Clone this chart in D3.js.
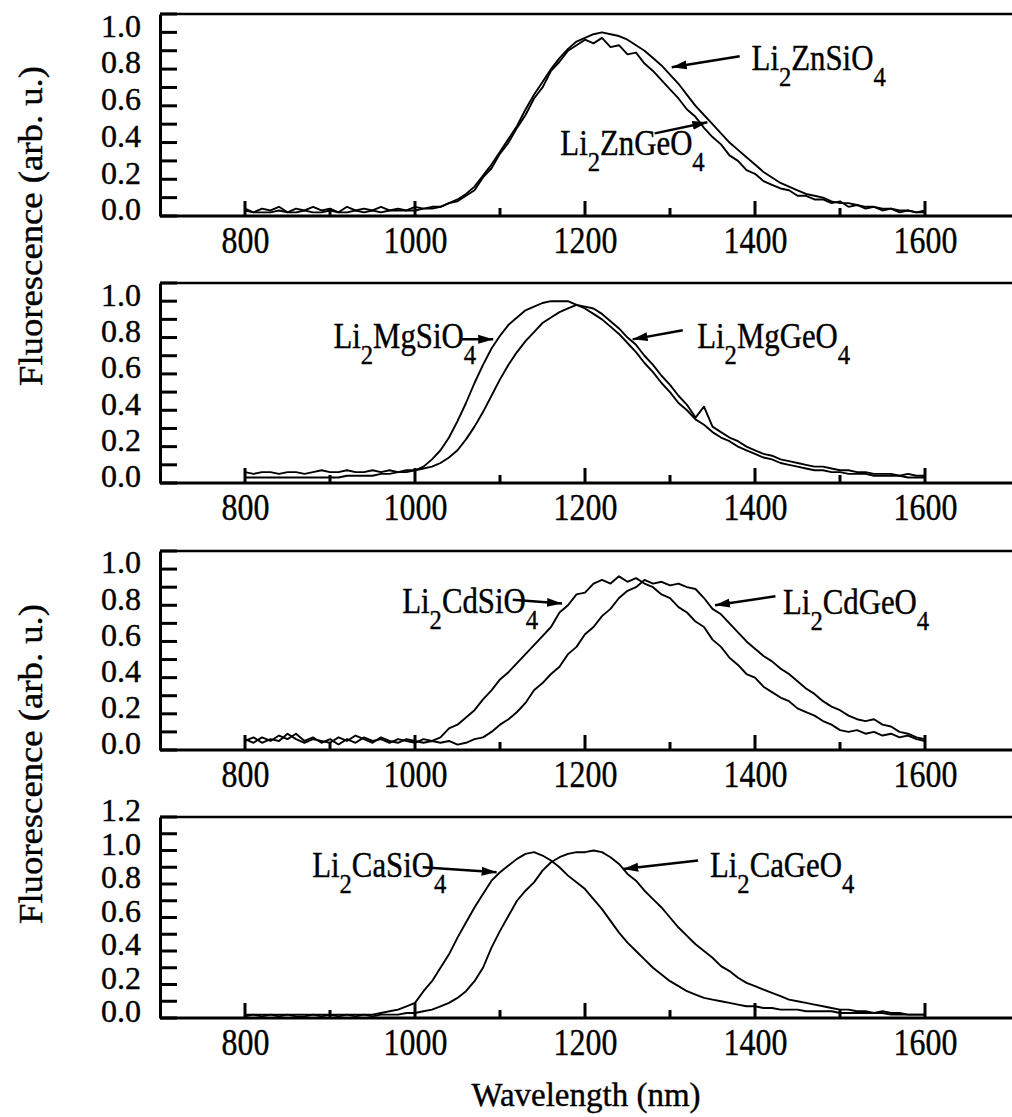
<!DOCTYPE html>
<html>
<head>
<meta charset="utf-8">
<script src="https://cdn.jsdelivr.net/npm/d3@7"></script>
<style>
  body { margin: 0; background: #fff; }
  svg { display: block; background: #fff; }
  .axis path, .axis line { stroke: #000; }
  .tickmark { stroke: #000; stroke-width: 3; }
  .trace { fill: none; stroke: #000; stroke-width: 1.9; stroke-linejoin: round; }
  .arrow { stroke: #000; stroke-width: 2.5; }
  text { fill: #000; stroke: #000; stroke-width: 0.4; }
</style>
</head>
<body>
<div id="chart"></div>
<script>
// sample wavelengths (nm), 10 nm apart
const wavelengths = [
  800, 810, 820, 830, 840, 850, 860, 870, 880, 890,
  900, 910, 920, 930, 940, 950, 960, 970, 980, 990,
  1000, 1010, 1020, 1030, 1040, 1050, 1060, 1070, 1080, 1090,
  1100, 1110, 1120, 1130, 1140, 1150, 1160, 1170, 1180, 1190,
  1200, 1210, 1220, 1230, 1240, 1250, 1260, 1270, 1280, 1290,
  1300, 1310, 1320, 1330, 1340, 1350, 1360, 1370, 1380, 1390,
  1400, 1410, 1420, 1430, 1440, 1450, 1460, 1470, 1480, 1490,
  1500, 1510, 1520, 1530, 1540, 1550, 1560, 1570, 1580, 1590,
  1600];

// fluorescence (arb. u.)
const znSi = [
  .03,.02,.02,.02,.03,.02,.02,.03,.02,.02, .03,.02,.02,.03,.02,.03,.02,.03,.03,.03,
  .03,.04,.04,.05,.07,.09,.12,.16,.22,.28, .35,.42,.49,.58,.66,.73,.80,.86,.91,.95,
  .97,.99,1.00,.99,.98,.96,.93,.90,.86,.82, .77,.72,.66,.60,.55,.50,.45,.40,.36,.32,
  .28,.24,.21,.18,.16,.14,.12,.11,.10,.08, .07,.07,.06,.05,.05,.04,.04,.03,.03,.02, .02];
const znGe = [
  .04,.02,.04,.03,.05,.02,.04,.03,.05,.03, .04,.02,.05,.03,.04,.03,.05,.03,.04,.03,
  .05,.04,.05,.05,.07,.08,.11,.14,.21,.26, .34,.40,.48,.55,.64,.70,.79,.84,.90,.93,
  .96,.94,.97,.92,.93,.88,.89,.83,.79,.74, .69,.64,.58,.54,.48,.43,.39,.33,.30,.25,
  .23,.19,.17,.15,.14,.11,.11,.09,.09,.07, .08,.05,.06,.04,.05,.03,.04,.02,.03,.02, .03];
const mgSi = [
  .03,.03,.03,.03,.03,.03,.03,.03,.03,.03, .03,.03,.04,.04,.04,.04,.05,.05,.06,.06,
  .07,.09,.13,.18,.25,.34,.44,.55,.65,.74, .81,.87,.91,.95,.97,.99,1.00,1.00,1.00,.98,
  .96,.93,.90,.86,.82,.77,.72,.66,.61,.55, .50,.44,.40,.35,.32,.28,.25,.23,.20,.18,
  .16,.14,.13,.11,.10,.09,.08,.07,.07,.06, .06,.05,.05,.05,.04,.04,.04,.04,.03,.03, .03];
const mgGe = [
  .06,.05,.06,.06,.05,.06,.06,.05,.06,.07, .06,.06,.07,.06,.06,.07,.06,.07,.06,.07,
  .07,.08,.09,.11,.14,.18,.24,.31,.39,.48, .57,.65,.72,.78,.83,.88,.91,.94,.96,.98,
  .97,.96,.93,.89,.85,.80,.76,.70,.65,.59, .54,.48,.43,.36,.42,.31,.28,.25,.23,.20,
  .18,.16,.15,.13,.12,.11,.10,.09,.09,.08, .07,.07,.06,.06,.05,.05,.05,.04,.05,.04, .04];
const cdSi = [
  .06,.04,.07,.05,.08,.06,.09,.05,.07,.04, .06,.03,.06,.04,.07,.05,.06,.04,.06,.05,
  .04,.06,.05,.07,.12,.14,.18,.22,.28,.33, .39,.43,.48,.53,.58,.63,.68,.76,.80,.86,
  .87,.92,.94,.92,.96,.93,.95,.92,.90,.86, .84,.79,.76,.71,.68,.61,.57,.51,.47,.42,
  .40,.35,.32,.29,.27,.23,.21,.19,.16,.14, .11,.10,.11,.09,.10,.08,.09,.07,.08,.06, .05];
const cdGe = [
  .05,.07,.04,.06,.05,.09,.06,.04,.06,.05, .04,.07,.05,.08,.06,.04,.07,.05,.04,.06,
  .05,.04,.05,.04,.05,.03,.04,.06,.07,.10, .14,.17,.21,.26,.33,.37,.42,.46,.53,.57,
  .64,.68,.74,.78,.84,.88,.90,.94,.92,.93, .91,.92,.90,.89,.84,.78,.75,.70,.65,.60,
  .56,.52,.49,.45,.42,.38,.34,.31,.27,.24, .22,.19,.17,.16,.17,.14,.13,.10,.09,.07, .06];
const caSi = [
  .02,.02,.02,.02,.02,.02,.02,.02,.02,.02, .02,.02,.02,.02,.02,.02,.03,.04,.05,.07,
  .09,.16,.22,.30,.38,.48,.57,.66,.74,.82, .87,.91,.95,.98,.99,.97,.94,.90,.85,.81,
  .77,.71,.65,.58,.51,.45,.40,.35,.30,.26, .22,.19,.16,.14,.12,.11,.10,.09,.08,.07,
  .07,.06,.06,.05,.05,.05,.04,.04,.04,.04, .03,.03,.03,.03,.03,.03,.02,.02,.02,.02, .02];
const caGe = [
  .01,.02,.01,.02,.01,.02,.01,.01,.02,.01, .02,.01,.02,.01,.02,.01,.02,.02,.02,.03,
  .03,.04,.05,.07,.09,.12,.16,.22,.30,.42, .52,.61,.70,.76,.81,.88,.93,.96,.98,.99,
  .99,1.00,.99,.96,.92,.86,.82,.76,.71,.66, .60,.54,.49,.44,.40,.36,.31,.28,.24,.21,
  .19,.17,.15,.13,.11,.10,.09,.08,.07,.06, .05,.05,.04,.04,.03,.04,.03,.03,.02,.02, .02];

const siSeries = [znSi, mgSi, cdSi, caSi];
const geSeries = [znGe, mgGe, cdGe, caGe];
const siLabels = ["Li2ZnSiO4", "Li2MgSiO4", "Li2CdSiO4", "Li2CaSiO4"];
const geLabels = ["Li2ZnGeO4", "Li2MgGeO4", "Li2CdGeO4", "Li2CaGeO4"];

const xMajorTicks = [800, 1000, 1200, 1400, 1600];
const xMinorTicks = [900, 1100, 1300, 1500];
const yTicks = [0, 0.1, 0.2, 0.3, 0.4, 0.5, 0.6, 0.7, 0.8, 0.9, 1.0, 1.1];
const yTicksCa = [0, 0.1, 0.2, 0.3, 0.4, 0.5, 0.6, 0.7, 0.8, 0.9, 1.0, 1.1, 1.2];
const yLabelsZn = [0, 0.2, 0.4, 0.6, 0.8, 1.0];
const yLabelsCa = [0, 0.2, 0.4, 0.6, 0.8, 1.0, 1.2];

// layout of the four stacked panels
const panelTop = [14, 283, 551, 817];
const panelBottom = [216, 483, 750, 1018];
const yMax = [1.1, 1.1, 1.1, 1.2];

// label placement in data units: text start, arrow tail, arrow tip
const siNotes = [
  {at: [1396, 0.795], from: [1382, 0.87], to: [1302, 0.81]},
  {at: [904, 0.74], from: [1053, 0.79], to: [1092, 0.79]},
  {at: [985, 0.76], from: [1115, 0.83], to: [1173, 0.81]},
  {at: [879, 0.84], from: [1009, 0.90], to: [1096, 0.87]}
];
const geNotes = [
  {at: [1171, 0.33], from: [1282, 0.45], to: [1344, 0.51]},
  {at: [1332, 0.74], from: [1315, 0.84], to: [1256, 0.79]},
  {at: [1433, 0.75], from: [1424, 0.85], to: [1353, 0.80]},
  {at: [1347, 0.84], from: [1333, 0.94], to: [1245, 0.89]}
];

const width = 1012, height = 1117;
const font = '"Liberation Serif", "Times New Roman", serif';

const svg = d3.select('#chart').append('svg')
    .attr('width', width)
    .attr('height', height)
    .attr('font-family', font);

svg.append('defs').append('marker')
    .attr('id', 'head')
    .attr('markerUnits', 'userSpaceOnUse')
    .attr('viewBox', '0 -5 15 10')
    .attr('refX', 15).attr('refY', 0)
    .attr('markerWidth', 15).attr('markerHeight', 10)
    .attr('orient', 'auto')
  .append('path')
    .attr('d', 'M0,-4.5L15,0L0,4.5Z')
    .attr('fill', '#000');

const x = d3.scaleLinear().domain([700, 1700]).range([160, 1010]);

// chemical formula with subscript digits
function formula(sel, str, size) {
  let shift = 0;
  str.match(/[A-Za-z]+|\d+/g).forEach(part => {
    const sub = /^\d+$/.test(part);
    const target = sub ? Math.round(size * 0.45) : 0;
    sel.append('tspan')
        .attr('dy', target - shift)
        .attr('font-size', sub ? Math.round(size * 0.8) : size)
        .text(part);
    shift = target;
  });
}

siSeries.forEach((siVals, i) => {
  const y = d3.scaleLinear().domain([0, yMax[i]]).range([panelBottom[i], panelTop[i]]);
  const g = svg.append('g');
  const bottom = panelBottom[i];

  // top frame line
  g.append('line')
      .attr('x1', x(700)).attr('x2', width)
      .attr('y1', panelTop[i]).attr('y2', panelTop[i])
      .attr('stroke', '#000').attr('stroke-width', 2.5);

  // x labels and baseline
  const xg = g.append('g')
      .attr('class', 'axis')
      .attr('transform', `translate(0,${bottom})`)
      .call(d3.axisBottom(x).tickValues(xMajorTicks).tickFormat(d3.format('d'))
        .tickSize(0).tickPadding(10));
  xg.attr('font-family', font).attr('font-size', 38);
  xg.select('.domain').attr('stroke-width', 3).attr('d', `M${x(700)},0H${width}`);
  xg.selectAll('text').attr('transform', 'scale(0.84,1)');

  // y labels and left axis
  const yg = g.append('g')
      .attr('class', 'axis')
      .attr('transform', `translate(${x(700)},0)`)
      .call(d3.axisLeft(y).tickValues(i === 3 ? yLabelsCa : yLabelsZn)
        .tickFormat(d3.format('.1f')).tickSize(0).tickPadding(19));
  yg.attr('font-family', font).attr('font-size', 32);
  yg.select('.domain').attr('stroke-width', 3);
  yg.selectAll('text').attr('dy', '0.12em');

  // inward tick marks
  g.selectAll('.xmajor').data(xMajorTicks).join('line')
      .attr('class', 'tickmark xmajor')
      .attr('x1', d => x(d)).attr('x2', d => x(d))
      .attr('y1', bottom).attr('y2', bottom - 15);
  g.selectAll('.xminor').data(xMinorTicks).join('line')
      .attr('class', 'tickmark xminor')
      .attr('x1', d => x(d)).attr('x2', d => x(d))
      .attr('y1', bottom).attr('y2', bottom - 8);
  g.selectAll('.ytick').data(i === 3 ? yTicksCa : yTicks).join('line')
      .attr('class', 'tickmark ytick')
      .attr('x1', x(700)).attr('x2', x(700) + 17)
      .attr('y1', d => y(d)).attr('y2', d => y(d));

  // spectra
  const line = d3.line()
      .x((d, k) => x(wavelengths[k]))
      .y(d => y(d));
  g.append('path').attr('class', 'trace').attr('d', line(geSeries[i]));
  g.append('path').attr('class', 'trace').attr('d', line(siVals));

  // labels and arrows
  [[siLabels[i], siNotes[i]], [geLabels[i], geNotes[i]]].forEach(([label, note]) => {
    const t = g.append('text')
        .attr('transform', `translate(${x(note.at[0])},${y(note.at[1])}) scale(0.88,1)`);
    formula(t, label, 35);
    g.append('line')
        .attr('class', 'arrow')
        .attr('x1', x(note.from[0])).attr('y1', y(note.from[1]))
        .attr('x2', x(note.to[0])).attr('y2', y(note.to[1]))
        .attr('marker-end', 'url(#head)');
  });
});

// axis titles
[226, 764].forEach(cy => {
  svg.append('text')
      .attr('transform', `translate(42,${cy}) rotate(-90)`)
      .attr('text-anchor', 'middle')
      .attr('font-size', 33)
      .attr('textLength', 320)
      .attr('lengthAdjust', 'spacingAndGlyphs')
      .text('Fluorescence (arb. u.)');
});

svg.append('text')
    .attr('x', 586)
    .attr('y', 1106)
    .attr('text-anchor', 'middle')
    .attr('font-size', 33)
    .text('Wavelength (nm)');
</script>
</body>
</html>
